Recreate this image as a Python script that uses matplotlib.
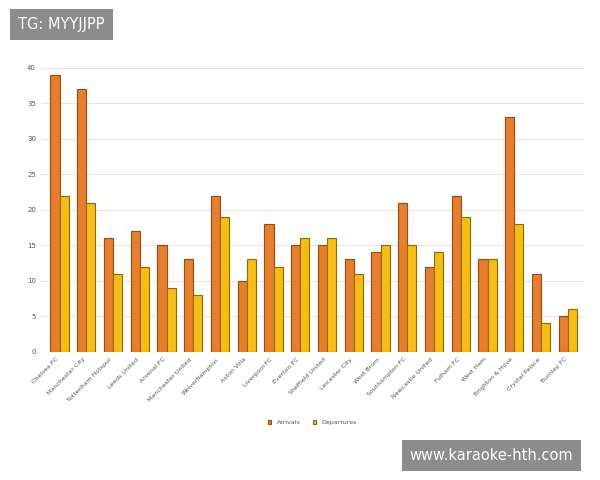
import matplotlib.pyplot as plt
import numpy as np

teams = ["Chelsea FC", "Manchester City", "Tottenham Hotspur", "Leeds United", "Arsenal FC",
         "Manchester United", "Wolverhampton", "Aston Villa", "Liverpool FC", "Everton FC",
         "Sheffield United", "Leicester City", "West Brom", "Southampton FC", "Newcastle United",
         "Fulham FC", "West Ham", "Brighton & Hove", "Crystal Palace", "Burnley FC"]
arrivals = [39, 37, 16, 17, 15, 13, 22, 10, 18, 15, 15, 13, 14, 21, 12, 22, 13, 33, 11, 5]
departures = [22, 21, 11, 12, 9, 8, 19, 13, 12, 16, 16, 11, 15, 15, 14, 19, 13, 18, 4, 6]

fig = plt.figure(figsize=(6, 4.8), dpi=100)
ax = fig.add_axes([0.068, 0.267, 0.905, 0.592])

x = np.arange(len(teams))
w = 0.34
ax.bar(x - w / 2, arrivals, w, color="#e87d2c", edgecolor="#9c4a12", lw=0.8, label="Arrivals")
ax.bar(x + w / 2, departures, w, color="#f7bd12", edgecolor="#8f6a00", lw=0.8, label="Departures")

ax.set_ylim(0, 40)
ax.set_xlim(-0.7, len(teams) - 0.4)
ax.set_yticks(range(0, 41, 5))
ax.set_xticks(x)
ax.set_xticklabels(teams, rotation=45, ha="right", fontsize=4.5, color="#555555")
ax.tick_params(axis="y", labelsize=5, colors="#555555", length=0)
ax.tick_params(axis="x", length=0)
ax.grid(axis="y", color="#e6e6e6", lw=0.8)
ax.set_axisbelow(True)
for s in ax.spines.values():
    s.set_visible(False)

ax.legend(loc="upper center", bbox_to_anchor=(0.5, -0.22), ncol=2, frameon=False,
          fontsize=4.5, handlelength=0.6, handleheight=0.6, labelcolor="#555555")

fig.text(0.03, 0.948, "TG: MYYJJPP", fontsize=10.5, color="white", va="center",
         bbox=dict(boxstyle="square,pad=0.55", fc="#8c8c8c", ec="none"))
fig.text(0.683, 0.052, "www.karaoke-hth.com", fontsize=10.5, color="white", va="center",
         bbox=dict(boxstyle="square,pad=0.55", fc="#8c8c8c", ec="none"))

fig.savefig("out.png", dpi=100)
